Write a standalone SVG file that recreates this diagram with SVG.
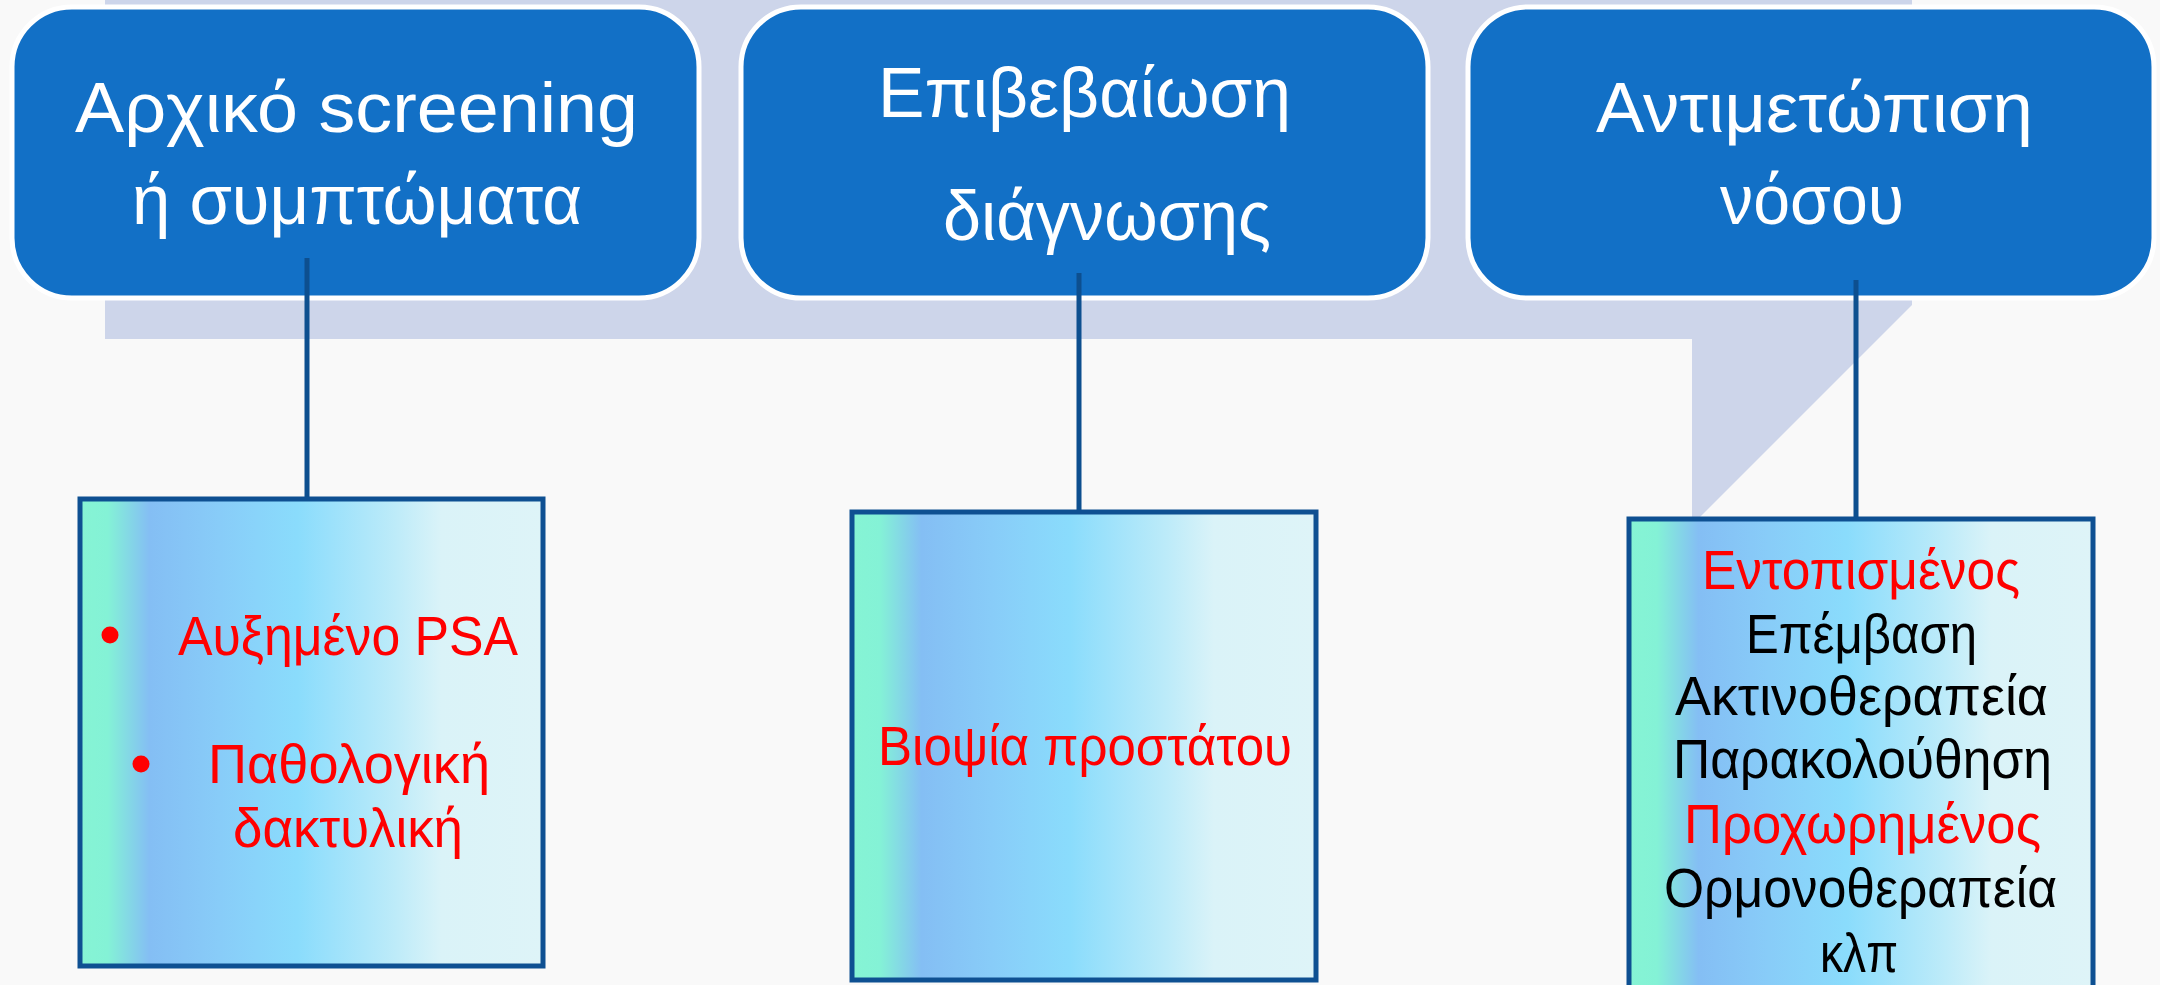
<svg xmlns="http://www.w3.org/2000/svg" width="2160" height="985" viewBox="0 0 2160 985">
  <defs>
    <linearGradient id="childGrad" x1="0" y1="0" x2="1" y2="0">
      <stop offset="0" stop-color="#86F4D4"/>
      <stop offset="0.06" stop-color="#84F2D6"/>
      <stop offset="0.15" stop-color="#84BEF4"/>
      <stop offset="0.3" stop-color="#88CCF8"/>
      <stop offset="0.47" stop-color="#8ADCFC"/>
      <stop offset="0.68" stop-color="#BDEBF9"/>
      <stop offset="0.78" stop-color="#DAF3F8"/>
      <stop offset="1" stop-color="#DEF4F8"/>
    </linearGradient>
    <style>
      .head { fill: #1270C6; stroke: #FFFFFF; stroke-width: 5; }
      .child { fill: url(#childGrad); stroke: #0E5092; stroke-width: 5; }
      .conn { stroke: #0D4F8F; stroke-width: 5; fill: none; }
      .ht { font-family: "Comic Sans MS", "Liberation Sans", "Open Sans", sans-serif; font-size: 70px; fill: #FFFFFF; }
      .ct { font-family: "Comic Sans MS", "Liberation Sans", "Open Sans", sans-serif; font-size: 56px; }
      .red { fill: #FF0000; }
      .blk { fill: #000000; }
    </style>
  </defs>
  <rect x="0" y="0" width="2160" height="985" fill="#F9F9F9"/>
  <polygon points="105,0 1912,0 1912,305 1692,525 1692,339 105,339" fill="#CDD5EA"/>

  <g id="head1">
    <rect class="head" x="12" y="7" width="687" height="291" rx="60" ry="60"/>
    <text class="ht" x="75" y="132" textLength="563" lengthAdjust="spacingAndGlyphs">Αρχικό screening</text>
    <text class="ht" x="132" y="224" textLength="450" lengthAdjust="spacingAndGlyphs">ή συμπτώματα</text>
  </g>
  <g id="head2">
    <rect class="head" x="741" y="7" width="687" height="291" rx="60" ry="60"/>
    <text class="ht" x="878" y="117" textLength="413" lengthAdjust="spacingAndGlyphs">Επιβεβαίωση</text>
    <text class="ht" x="943" y="240" textLength="328" lengthAdjust="spacingAndGlyphs">διάγνωσης</text>
  </g>
  <g id="head3">
    <rect class="head" x="1468" y="7" width="686" height="291" rx="60" ry="60"/>
    <text class="ht" x="1596" y="132" textLength="437" lengthAdjust="spacingAndGlyphs">Αντιμετώπιση</text>
    <text class="ht" x="1720" y="224" textLength="184" lengthAdjust="spacingAndGlyphs">νόσου</text>
  </g>

  <g id="connectors">
    <line class="conn" x1="307" y1="258" x2="307" y2="499"/>
    <line class="conn" x1="1079" y1="273" x2="1079" y2="512"/>
    <line class="conn" x1="1856" y1="280" x2="1856" y2="519"/>
  </g>

  <g id="child1">
    <rect class="child" x="80" y="499" width="463" height="467"/>
    <circle class="red" cx="110" cy="635" r="8.5"/>
    <text class="ct red" x="178" y="655" textLength="340" lengthAdjust="spacingAndGlyphs">Αυξημένο PSA</text>
    <circle class="red" cx="141" cy="764" r="8.5"/>
    <text class="ct red" x="208" y="783" textLength="282" lengthAdjust="spacingAndGlyphs">Παθολογική</text>
    <text class="ct red" x="233" y="847" textLength="230" lengthAdjust="spacingAndGlyphs">δακτυλική</text>
  </g>
  <g id="child2">
    <rect class="child" x="852" y="512" width="464" height="468"/>
    <text class="ct red" x="878" y="765" textLength="414" lengthAdjust="spacingAndGlyphs">Βιοψία προστάτου</text>
  </g>
  <g id="child3">
    <rect class="child" x="1629" y="519" width="464" height="500"/>
    <text class="ct red" x="1702" y="589" textLength="318" lengthAdjust="spacingAndGlyphs">Εντοπισμένος</text>
    <text class="ct blk" x="1746" y="653" textLength="231" lengthAdjust="spacingAndGlyphs">Επέμβαση</text>
    <text class="ct blk" x="1675" y="715" textLength="373" lengthAdjust="spacingAndGlyphs">Ακτινοθεραπεία</text>
    <text class="ct blk" x="1673" y="778" textLength="379" lengthAdjust="spacingAndGlyphs">Παρακολούθηση</text>
    <text class="ct red" x="1684" y="843" textLength="357" lengthAdjust="spacingAndGlyphs">Προχωρημένος</text>
    <text class="ct blk" x="1664" y="907" textLength="393" lengthAdjust="spacingAndGlyphs">Ορμονοθεραπεία</text>
    <text class="ct blk" x="1820" y="972" textLength="78" lengthAdjust="spacingAndGlyphs">κλπ</text>
  </g>
</svg>
